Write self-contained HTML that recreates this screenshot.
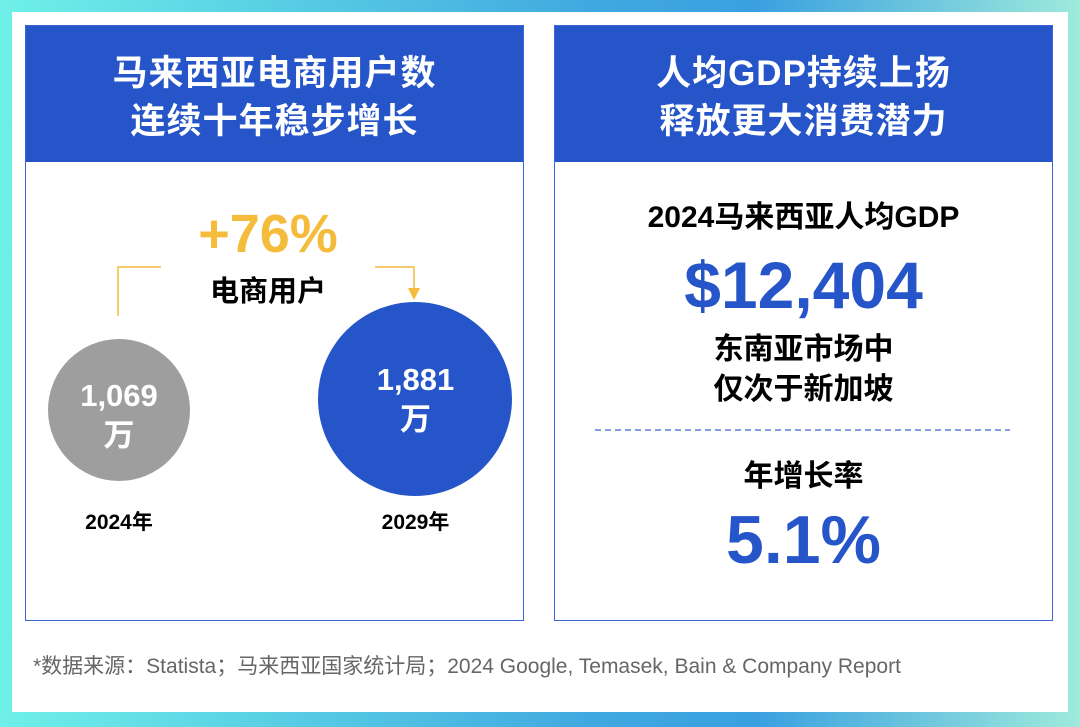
<!DOCTYPE html>
<html><head><meta charset="utf-8"><style>
*{margin:0;padding:0;box-sizing:border-box}
body{width:1080px;height:727px;position:relative;overflow:hidden;font-family:"Liberation Sans","Noto Sans CJK SC",sans-serif;background:linear-gradient(90deg,#6ef0e8 0%,#40a8e0 55%,#3aa0e0 70%,#9eeadc 100%)}
.abs{position:absolute}
.inner{left:12px;top:12px;width:1056px;height:700px;background:#fff}
.panel{top:25px;width:499px;height:596px;border:1.5px solid #3a64d8;background:#fff}
.head{left:0;top:0;width:100%;height:136px;background:#2555c8;color:#fff;font-weight:bold;font-size:35px;line-height:48px;text-align:center;padding-top:24px;letter-spacing:1px}
.c{text-align:center;font-weight:bold;white-space:nowrap}
</style></head><body>
<div class="abs inner"></div>
<div class="abs panel" style="left:25px">
 <div class="abs head">马来西亚电商用户数<br>连续十年稳步增长</div>
</div>
<div class="abs panel" style="left:554px">
 <div class="abs head">人均GDP持续上扬<br>释放更大消费潜力</div>
</div>
<div class="abs c" style="left:168px;top:204px;width:200px;font-size:54px;line-height:60px;color:#f5bc3c">+76%</div>
<svg class="abs" style="left:0;top:0" width="1080" height="727">
 <polyline points="118,316 118,267 161,267" fill="none" stroke="#f5bc3c" stroke-width="1.5"/>
 <polyline points="375,267 414,267 414,290" fill="none" stroke="#f5bc3c" stroke-width="1.5"/>
 <polygon points="408,288 420,288 414,300" fill="#f5bc3c"/>
 <circle cx="119" cy="410" r="71" fill="#9e9e9e"/>
 <circle cx="415" cy="399" r="97" fill="#2555c8"/>
 <line x1="595" y1="430" x2="1010" y2="430" stroke="#3a64d8" stroke-width="1.2" stroke-dasharray="6,4"/>
</svg>
<div class="abs c" style="left:168px;top:274px;width:200px;font-size:29px;line-height:36px;color:#000">电商用户</div>
<div class="abs c" style="left:49px;top:376px;width:140px;font-size:31px;line-height:40px;color:#fff">1,069<br>万</div>
<div class="abs c" style="left:319px;top:360px;width:193px;font-size:31px;line-height:40px;color:#fff">1,881<br>万</div>
<div class="abs c" style="left:49px;top:509px;width:140px;font-size:21px;line-height:28px;color:#000">2024年</div>
<div class="abs c" style="left:319px;top:509px;width:193px;font-size:21px;line-height:28px;color:#000">2029年</div>
<div class="abs c" style="left:554px;top:198px;width:499px;font-size:30px;line-height:40px;color:#000">2024马来西亚人均GDP</div>
<div class="abs c" style="left:554px;top:247px;width:499px;font-size:66px;line-height:76px;color:#2555c8">$12,404</div>
<div class="abs c" style="left:554px;top:330px;width:499px;font-size:30px;line-height:40px;color:#000">东南亚市场中<br>仅次于新加坡</div>
<div class="abs c" style="left:554px;top:457px;width:499px;font-size:30px;line-height:40px;color:#000">年增长率</div>
<div class="abs c" style="left:554px;top:502px;width:499px;font-size:68px;line-height:76px;color:#2555c8">5.1%</div>
<div class="abs" style="left:33px;top:652px;font-size:21px;line-height:30px;color:#666;white-space:nowrap">*数据来源：Statista；马来西亚国家统计局；2024 Google, Temasek, Bain &amp; Company Report</div>
</body></html>
